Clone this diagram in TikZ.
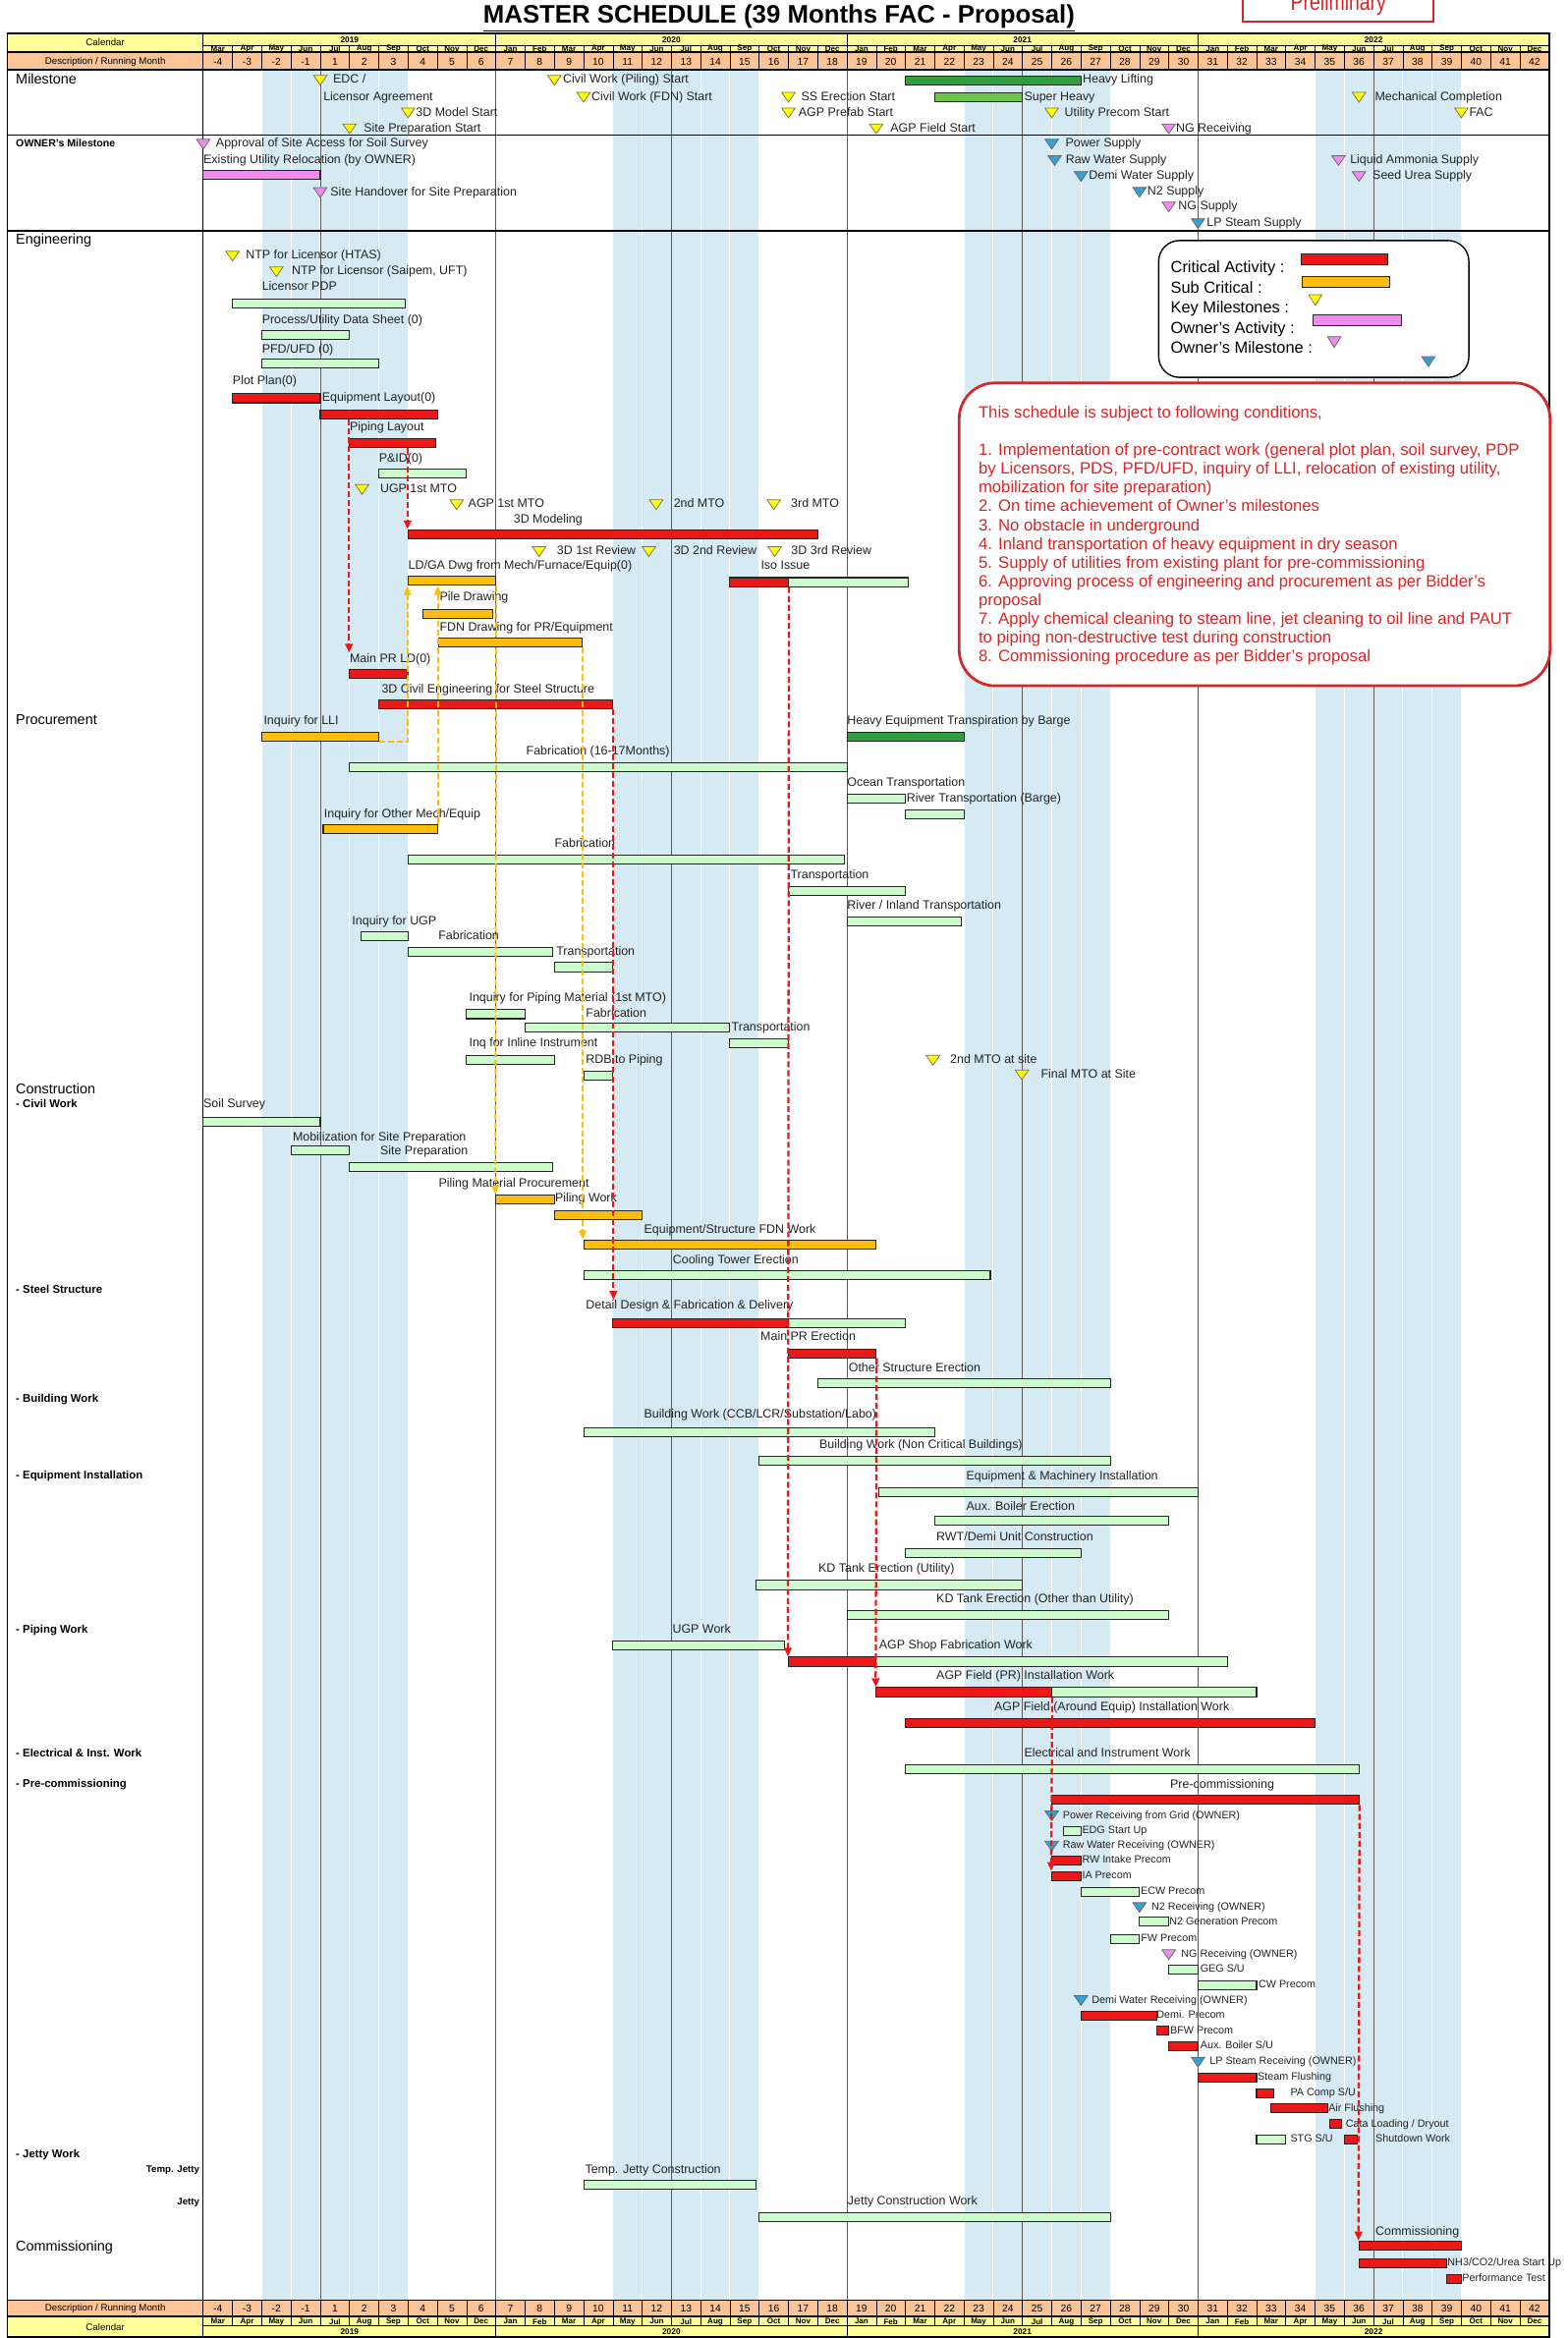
\documentclass[tikz,border=0pt]{standalone}
\usepackage{fontspec}
\setmainfont{Liberation Sans}
\usetikzlibrary{fit,arrows.meta}

\definecolor{critred}{RGB}{236,24,24}
\definecolor{subor}{RGB}{252,190,10}
\definecolor{normgr}{RGB}{204,250,204}
\definecolor{darkgr}{RGB}{48,158,62}
\definecolor{lightgr}{RGB}{108,196,76}
\definecolor{ownpink}{RGB}{240,140,240}
\definecolor{ownblue}{RGB}{52,162,212}
\definecolor{keyyel}{RGB}{255,255,0}
\definecolor{rainblue}{RGB}{214,234,243}
\definecolor{hdryel}{RGB}{255,255,153}
\definecolor{hdrorg}{RGB}{250,196,150}
\definecolor{condred}{RGB}{216,38,38}
\definecolor{txtgray}{RGB}{35,35,35}

\tikzset{
  gbar/.style={draw=black!85, line width=0.7pt, inner xsep=0pt, inner ysep=3pt},
  critbar/.style={gbar, fill=critred},
  subbar/.style={gbar, fill=subor},
  normbar/.style={gbar, fill=normgr},
  heavybar/.style={gbar, fill=darkgr},
  sheavybar/.style={gbar, fill=lightgr},
  ownbar/.style={gbar, fill=ownpink},
  lbl/.style={anchor=west, inner sep=0pt, text height=6pt, text depth=1.7pt, text=txtgray, font=\fontsize{8.2}{9.5}\selectfont},
  slbl/.style={lbl, text height=5.2pt, text depth=1.5pt, font=\fontsize{7.1}{8}\selectfont},
  mslabel/.style={lbl},
  keyms/.style={draw=black!60!yellow, fill=keyyel, line width=0.5pt},
  ownms/.style={draw=black!60, fill=ownpink, line width=0.5pt},
  utilms/.style={draw=black!60, fill=ownblue, line width=0.5pt},
  critpath/.style={draw=critred, line width=1.5pt, dash pattern=on 4pt off 2pt, -{Triangle[length=6pt,width=5pt]}},
  subpath/.style={draw=subor, line width=1.2pt, dash pattern=on 4pt off 2pt, -{Triangle[length=6pt,width=5pt]}},
  sect/.style={anchor=west, inner sep=0pt, text height=7pt, text depth=2pt, font=\fontsize{9.5}{11}\selectfont},
  subsect/.style={anchor=west, inner sep=0pt, text height=5.5pt, text depth=1.6pt, font=\bfseries\fontsize{7.5}{9}\selectfont},
  hdr/.style={inner sep=0pt, font=\fontsize{6.4}{7}\selectfont},
  mon/.style={inner sep=0pt, font=\bfseries\fontsize{5.3}{6}\selectfont},
  yr/.style={inner sep=0pt, font=\bfseries\fontsize{5.5}{6}\selectfont},
  rmon/.style={inner sep=0pt, font=\fontsize{6.8}{7}\selectfont},
  legtxt/.style={anchor=west, inner sep=0pt, text height=7.5pt, text depth=2.2pt, font=\fontsize{10.8}{12}\selectfont},
}

\newcommand\gtask[5]{%
  \path (#3,#5) coordinate (#1-s) (#4,#5) coordinate (#1-f);
  \node[#2, fit=(#1-s)(#1-f)] (#1) {};}
\newcommand\mstone[6][0.5]{%
  \draw[#3] (#4-0.23,#5-3.2) -- (#4+0.23,#5-3.2) -- (#4,#5+3.3) -- cycle;
  \node[mslabel] (#2) at (#4+#1,#5) {#6};}

\begin{document}
\begin{tikzpicture}[x=1pt,y=-1pt]
\useasboundingbox (0,0) rectangle (1051,1568);

\node[font=\bfseries\fontsize{17}{17}\selectfont] (title) at (522.4,12) {\underline{MASTER SCHEDULE (39 Months FAC - Proposal)}};
\draw[condred, line width=1.1pt] (833.6,-8) -- (833.6,14.5) -- (961.4,14.5) -- (961.4,-8);
\node[anchor=base, inner sep=0pt, text=condred, font=\fontsize{16}{16}\selectfont] (prelim) at (897.5,7) {\scalebox{0.8}[1]{Preliminary}};

\fill[hdryel] (5,22.4) rectangle (1039,34.7);
\fill[hdrorg] (5,35.6) rectangle (1039,46.8);
\fill[hdrorg] (5,1542.6) rectangle (1039,1553.2);
\fill[hdryel] (5,1554) rectangle (1039,1567.4);
\node[hdr] (calT) at (70.6,28.5) {Calendar};
\node[hdr] (descT) at (70.6,41.2) {Description / Running Month};
\node[hdr] (descB) at (70.6,1548.1) {Description / Running Month};
\node[hdr] (calB) at (70.6,1560.6) {Calendar};

\begin{scope}[xshift=136.3pt, x=19.62pt]
  \foreach \b in {2,14,26,38}
    \fill[rainblue] (\b,46.8) rectangle (\b+5,1542.6);
  \foreach \k in {1,...,45}
    \draw[white, line width=0.7pt] (\k,46.8) -- (\k,1542.6);
  \foreach \k in {4,10,16,22,28,34,40}
    \draw[black!65, line width=0.5pt] (\k,46.8) -- (\k,1542.6);

  \foreach \k in {1,...,45}
    \draw[line width=0.4pt] (\k,30.7) -- (\k,46.8) (\k,1542.6) -- (\k,1559.8);
  \foreach \k in {10,22,34}
    \draw[line width=0.6pt] (\k,22.4) -- (\k,30.7) (\k,1559.8) -- (\k,1567.4);
  \draw[line width=0.4pt] (0,30.7) -- (46,30.7) (0,1559.8) -- (46,1559.8);
  \foreach \y [count=\j] in {2019,2020,2021,2022} {
    \pgfmathsetmacro\yc{\j==1 ? 5 : 12*\j-8}
    \node[yr] (yt\j) at (\yc,26.6) {\y};
    \node[yr] (yb\j) at (\yc,1563.6) {\y};
  }
  \foreach \mn [count=\k from 0] in {Mar,Apr,May,Jun,Jul,Aug,Sep,Oct,Nov,Dec,
      Jan,Feb,Mar,Apr,May,Jun,Jul,Aug,Sep,Oct,Nov,Dec,
      Jan,Feb,Mar,Apr,May,Jun,Jul,Aug,Sep,Oct,Nov,Dec,
      Jan,Feb,Mar,Apr,May,Jun,Jul,Aug,Sep,Oct,Nov,Dec} {
    \node[mon] (mt\k) at (\k+0.5,32.8) {\mn};
    \node[mon] (mb\k) at (\k+0.5,1556.9) {\mn};
  }
  \foreach \k in {0,...,45} {
    \pgfmathtruncatemacro\runm{\k<4 ? \k-4 : \k-3}
    \node[rmon] (rt\k) at (\k+0.5,41.2) {\runm};
    \node[rmon] (rb\k) at (\k+0.5,1548.1) {\runm};
  }
\end{scope}

\draw[line width=1.2pt] (5,35.15) -- (1039,35.15) (5,1553.6) -- (1039,1553.6);
\draw[line width=0.8pt] (5,46.8) -- (1039,46.8) (5,1542.6) -- (1039,1542.6);
\draw[line width=1pt] (5,90.7) -- (1039,90.7) (5,154.8) -- (1039,154.8);
\draw[line width=0.8pt] (136.3,22.4) -- (136.3,1567.4);
\draw[line width=1pt] (5,22.4) rectangle (1039,1567.4);

\node[sect] (mileH) at (10.5,53.8) {Milestone};
\node[subsect, font=\bfseries\fontsize{7}{8}\selectfont] (ownH) at (10.5,96.6) {OWNER's Milestone};
\node[sect] (engH) at (10.5,161.3) {Engineering};
\node[sect] (procH) at (10.5,483.6) {Procurement};
\node[sect] (consH) at (10.5,731.4) {Construction};
\node[subsect] (civH) at (10.5,740.8) {- Civil Work};
\node[subsect] (steelH) at (10.5,865.3) {- Steel Structure};
\node[subsect] (bldgH) at (10.5,938.4) {- Building Work};
\node[subsect] (eqH) at (10.5,989.9) {- Equipment Installation};
\node[subsect] (pipH) at (10.5,1093.3) {- Piping Work};
\node[subsect] (elH) at (10.5,1176.1) {- Electrical \& Inst. Work};
\node[subsect] (preH) at (10.5,1196.9) {- Pre-commissioning};
\node[subsect] (jetH) at (10.5,1445.4) {- Jetty Work};
\node[subsect, anchor=east, font=\bfseries\fontsize{6.4}{7}\selectfont] (tjetH) at (134,1455.3) {Temp. Jetty};
\node[subsect, anchor=east, font=\bfseries\fontsize{6.4}{7}\selectfont] (pjetH) at (134,1476.8) {Jetty};
\node[sect] (commH) at (10.5,1507) {Commissioning};

\begin{scope}[xshift=136.3pt, x=19.62pt]
  % milestones
  \mstone[0.43]{edc}{keyms}{4}{53.8}{EDC /}
  \node[lbl] (edc2) at (4.1,65.2) {Licensor Agreement};
  \mstone[0.29]{pilestart}{keyms}{12}{53.8}{Civil Work (Piling) Start}
  \gtask{hlift}{heavybar}{24}{30}{53.8}
  \node[lbl] (hlift-l) at (30.05,53.8) {Heavy Lifting};
  \mstone[0.26]{fdnstart}{keyms}{13}{65.2}{Civil Work (FDN) Start}
  \mstone[0.43]{ssstart}{keyms}{20}{65.2}{SS Erection Start}
  \gtask{shvy}{sheavybar}{25}{28}{65.2}
  \node[lbl] (shvy-l) at (28.05,65.2) {Super Heavy};
  \mstone[0.54]{mc}{keyms}{39.5}{65.2}{Mechanical Completion}
  \mstone[0.26]{mod3dstart}{keyms}{7}{75.7}{3D Model Start}
  \mstone[0.34]{prefab}{keyms}{20}{75.7}{AGP Prefab Start}
  \mstone[0.43]{utilstart}{keyms}{29}{75.7}{Utility Precom Start}
  \mstone[0.26]{fac}{keyms}{43}{75.7}{FAC}
  \mstone[0.48]{sitestart}{keyms}{5}{86.3}{Site Preparation Start}
  \mstone[0.48]{fieldstart}{keyms}{23}{86.3}{AGP Field Start}
  \mstone[0.24]{ngms}{ownms}{33}{86.3}{NG Receiving}

  % owner
  \mstone[0.43]{apprv}{ownms}{0}{96.6}{Approval of Site Access for Soil Survey}
  \node[lbl] (exutil-l) at (0,107.5) {Existing Utility Relocation (by OWNER)};
  \gtask{exutil}{ownbar}{0}{4}{117.4}
  \mstone[0.34]{handover}{ownms}{4}{129.1}{Site Handover for Site Preparation}
  \mstone[0.46]{pwrsup}{utilms}{29}{96.6}{Power Supply}
  \mstone[0.37]{rawsup}{utilms}{29.1}{107.6}{Raw Water Supply}
  \mstone[0.26]{demisup}{utilms}{30}{118.3}{Demi Water Supply}
  \mstone[0.26]{n2sup}{utilms}{32}{128.9}{N2 Supply}
  \mstone[0.32]{ngsup}{ownms}{33}{138.7}{NG Supply}
  \mstone[0.29]{lpsup}{utilms}{34}{149.9}{LP Steam Supply}
  \mstone[0.39]{nh3sup}{ownms}{38.8}{107.6}{Liquid Ammonia Supply}
  \mstone[0.46]{ureasup}{ownms}{39.5}{118.3}{Seed Urea Supply}

  % engineering
  \mstone[0.45]{ntp1}{keyms}{1}{171.7}{NTP for Licensor (HTAS)}
  \mstone[0.52]{ntp2}{keyms}{2.5}{182.2}{NTP for Licensor (Saipem, UFT)}
  \node[lbl] (pdp-l) at (2,192.7) {Licensor PDP};
  \gtask{pdp}{normbar}{1}{6.9}{203.7}
  \node[lbl] (pds-l) at (2,214.7) {Process/Utility Data Sheet (0)};
  \gtask{pds}{normbar}{2}{5}{224.6}
  \node[lbl] (pfd-l) at (2,234.9) {PFD/UFD (0)};
  \gtask{pfd}{normbar}{2}{6}{244}
  \node[lbl] (plot-l) at (1,255.7) {Plot Plan(0)};
  \gtask{plot}{critbar}{1}{4}{267.1}
  \node[lbl] (eqlay-l) at (4.05,266.7) {Equipment Layout(0)};
  \gtask{eqlay}{critbar}{4}{8}{277.9}
  \node[lbl] (piplay-l) at (5,286.9) {Piping Layout};
  \gtask{piplay}{critbar}{5}{7.95}{297.4}
  \node[lbl] (pid-l) at (6,307.7) {P\&ID(0)};
  \gtask{pid}{normbar}{6}{9}{317.6}
  \mstone[0.61]{ugpmto}{keyms}{5.43}{328.2}{UGP 1st MTO}
  \mstone[0.39]{mto1}{keyms}{8.66}{338.4}{AGP 1st MTO}
  \mstone[0.59]{mto2}{keyms}{15.48}{338.4}{2nd MTO}
  \mstone[0.58]{mto3}{keyms}{19.5}{338.4}{3rd MTO}
  \node[lbl] (mod3d-l) at (10.6,348.6) {3D Modeling};
  \gtask{mod3d}{critbar}{7}{21}{358.4}
  \mstone[0.6]{rev1}{keyms}{11.48}{369.9}{3D 1st Review}
  \mstone[0.84]{rev2}{keyms}{15.23}{369.9}{3D 2nd Review}
  \mstone[0.56]{rev3}{keyms}{19.53}{369.9}{3D 3rd Review}
  \node[lbl] (ldga-l) at (7,379.7) {LD/GA Dwg from Mech/Furnace/Equip(0)};
  \gtask{ldga}{subbar}{7}{10}{389.6}
  \node[lbl] (iso-l) at (19.05,379.9) {Iso Issue};
  \gtask{isoc}{critbar}{18}{20}{390.4}
  \gtask{isog}{normbar}{20}{24.1}{390.4}
  \node[lbl] (pile-l) at (8.07,400.6) {Pile Drawing};
  \gtask{pile}{subbar}{7.5}{9.9}{411.6}
  \node[lbl] (fdndwg-l) at (8.07,421.4) {FDN Drawing for PR/Equipment};
  \gtask{fdndwg}{subbar}{8.05}{12.95}{430.9}
  \node[lbl] (mainprld-l) at (5,441.9) {Main PR LD(0)};
  \gtask{mainprld}{critbar}{5}{7}{451.7}
  \node[lbl] (civ3d-l) at (6.09,462.7) {3D Civil Engineering for Steel Structure};
  \gtask{civ3d}{critbar}{6}{14}{472.4}

  % procurement
  \node[lbl] (lli-l) at (2.06,483.6) {Inquiry for LLI};
  \gtask{lli}{subbar}{2}{6}{494.3}
  \node[lbl] (barge-l) at (22,483.6) {Heavy Equipment Transpiration by Barge};
  \gtask{barge}{heavybar}{22}{26}{494.3}
  \node[lbl] (fablli-l) at (11.03,504) {Fabrication (16-17Months)};
  \gtask{fablli}{normbar}{5}{22}{514.3}
  \node[lbl] (ocean-l) at (22,525.3) {Ocean Transportation};
  \gtask{ocean}{normbar}{22}{24}{535.6}
  \node[lbl] (river-l) at (24.03,535.6) {River Transportation (Barge)};
  \gtask{river}{normbar}{24}{26}{546.3}
  \node[lbl] (omech-l) at (4.12,546) {Inquiry for Other Mech/Equip};
  \gtask{omech}{subbar}{4.1}{8}{555.8}
  \node[lbl] (fabom-l) at (12,565.9) {Fabrication};
  \gtask{fabom}{normbar}{7}{21.9}{576.2}
  \node[lbl] (trom-l) at (20.06,587) {Transportation};
  \gtask{trom}{normbar}{20}{24}{597.3}
  \node[lbl] (inland-l) at (22,607.6) {River / Inland Transportation};
  \gtask{inland}{normbar}{22}{25.9}{617.9}
  \node[lbl] (ugpinq-l) at (5.08,617.9) {Inquiry for UGP};
  \gtask{ugpinq}{normbar}{5.4}{7}{628}
  \node[lbl] (ugpfab-l) at (8.03,628) {Fabrication};
  \gtask{ugpfab}{normbar}{7}{11.93}{638.3}
  \node[lbl] (ugptr-l) at (12.06,638.3) {Transportation};
  \gtask{ugptr}{normbar}{12}{14}{648.6}
  \node[lbl] (pipinq-l) at (9.08,669.5) {Inquiry for Piping Material (1st MTO)};
  \gtask{pipinq}{normbar}{9}{11}{680.2}
  \node[lbl] (pipfab-l) at (13.07,680.2) {Fabrication};
  \gtask{pipfab}{normbar}{11}{18}{689.2}
  \node[lbl] (piptr-l) at (18.05,689.6) {Transportation};
  \gtask{piptr}{normbar}{18}{20}{699.5}
  \node[lbl] (inline-l) at (9.08,699.8) {Inq for Inline Instrument};
  \gtask{inline}{normbar}{9}{12}{711}
  \node[lbl] (rdb-l) at (13.07,711) {RDB to Piping};
  \gtask{rdb}{normbar}{13}{14}{721.3}
  \mstone[0.58]{mtosite}{keyms}{24.94}{711}{2nd MTO at site}
  \mstone[0.64]{mtofinal}{keyms}{27.98}{720.8}{Final MTO at Site}

  % construction
  \node[lbl] (soil-l) at (0,740.8) {Soil Survey};
  \gtask{soil}{normbar}{0}{4}{752.2}
  \node[lbl] (mob-l) at (3.05,762.8) {Mobilization for Site Preparation};
  \gtask{mob}{normbar}{3}{5}{771.5}
  \node[lbl] (siteprep-l) at (6.04,772.6) {Site Preparation};
  \gtask{siteprep}{normbar}{5}{11.95}{782.5}
  \node[lbl] (pilmat-l) at (8.04,793.9) {Piling Material Procurement};
  \gtask{pilmat}{subbar}{10}{12}{804.5}
  \node[lbl] (pilwork-l) at (12.02,803.8) {Piling Work};
  \gtask{pilwork}{subbar}{12}{15}{815.2}
  \node[lbl] (fdnwork-l) at (15.06,824.9) {Equipment/Structure FDN Work};
  \gtask{fdnwork}{subbar}{13}{23}{834.5}
  \node[lbl] (ctower-l) at (16.04,845.1) {Cooling Tower Erection};
  \gtask{ctower}{normbar}{13}{26.9}{855.4}
  \node[lbl] (ddfab-l) at (13.07,875.8) {Detail Design \& Fabrication \& Delivery};
  \gtask{ddfabc}{critbar}{14}{20}{887.2}
  \gtask{ddfabg}{normbar}{20}{24}{887.2}
  \node[lbl] (mainpr-l) at (19.04,897.1) {Main PR Erection};
  \gtask{mainpr}{critbar}{20}{23}{907.6}
  \node[lbl] (othstr-l) at (22.05,918) {Other Structure Erection};
  \gtask{othstr}{normbar}{21}{31}{927.8}
  \node[lbl] (ccb-l) at (15.06,948.9) {Building Work (CCB/LCR/Substation/Labo)};
  \gtask{ccb}{normbar}{13}{25}{960.3}
  \node[lbl] (noncrit-l) at (21.05,969.5) {Building Work (Non Critical Buildings)};
  \gtask{noncrit}{normbar}{19}{31}{979.6}
  \node[lbl] (eqmach-l) at (26.07,990.4) {Equipment \& Machinery Installation};
  \gtask{eqmach}{normbar}{23.1}{34}{1000.5}
  \node[lbl] (auxb-l) at (26.07,1010.8) {Aux. Boiler Erection};
  \gtask{auxb}{normbar}{25}{33}{1019.6}
  \node[lbl] (rwt-l) at (25.05,1031.2) {RWT/Demi Unit Construction};
  \gtask{rwt}{normbar}{24}{30}{1041.7}
  \node[lbl] (kdu-l) at (21.02,1052.1) {KD Tank Erection (Utility)};
  \gtask{kdu}{normbar}{18.9}{28}{1063}
  \node[lbl] (kdo-l) at (25.05,1072.9) {KD Tank Erection (Other than Utility)};
  \gtask{kdo}{normbar}{22}{33}{1083}
  \node[lbl] (ugpw-l) at (16.03,1093.3) {UGP Work};
  \gtask{ugpw}{normbar}{14}{19.85}{1103.4}
  \node[lbl] (shop-l) at (23.09,1103.6) {AGP Shop Fabrication Work};
  \gtask{shopc}{critbar}{20}{23}{1114.4}
  \gtask{shopg}{normbar}{23}{35}{1114.4}
  \node[lbl] (fieldpr-l) at (25.05,1124.3) {AGP Field (PR) Installation Work};
  \gtask{fieldprc}{critbar}{23}{29}{1134.8}
  \gtask{fieldprg}{normbar}{29}{36}{1134.8}
  \node[lbl] (fieldeq-l) at (27.03,1145.1) {AGP Field (Around Equip) Installation Work};
  \gtask{fieldeq}{critbar}{24}{38}{1155.5}
  \node[lbl] (elin-l) at (28.05,1176.1) {Electrical and Instrument Work};
  \gtask{elin}{normbar}{24}{39.5}{1186.4}
  \node[lbl] (precom-l) at (33.04,1196.9) {Pre-commissioning};
  \gtask{precom}{critbar}{29}{39.5}{1207.2}

  \begin{scope}[mslabel/.style={slbl}]
    \mstone[0.37]{pwrrcv}{utilms}{29}{1217.8}{Power Receiving from Grid (OWNER)}
    \gtask{edg}{normbar}{29.4}{30}{1228.1}
    \node[slbl] (edg-l) at (30.03,1228.1) {EDG Start Up};
    \mstone[0.37]{rawrcv}{utilms}{29}{1238}{Raw Water Receiving (OWNER)}
    \gtask{rwin}{critbar}{29}{30}{1247.9}
    \node[slbl] (rwin-l) at (30.03,1247.9) {RW Intake Precom};
    \gtask{ia}{critbar}{29}{30}{1258.2}
    \node[slbl] (ia-l) at (30.03,1258.2) {IA Precom};
    \gtask{ecw}{normbar}{30}{32}{1268.7}
    \node[slbl] (ecw-l) at (32.03,1268.7) {ECW Precom};
    \mstone[0.4]{n2rcv}{utilms}{32}{1279.2}{N2 Receiving (OWNER)}
    \gtask{n2gen}{normbar}{32}{33}{1288.9}
    \node[slbl] (n2gen-l) at (33.01,1288.9) {N2 Generation Precom};
    \gtask{fw}{normbar}{31}{32}{1300.5}
    \node[slbl] (fw-l) at (32.04,1300.5) {FW Precom};
    \mstone[0.42]{ngrcv}{ownms}{33}{1310.8}{NG Receiving (OWNER)}
    \gtask{geg}{normbar}{33}{34}{1321}
    \node[slbl] (geg-l) at (34.07,1321) {GEG S/U};
    \gtask{cw}{normbar}{34}{36}{1331.3}
    \node[slbl] (cw-l) at (36.06,1331.3) {CW Precom};
    \mstone[0.36]{demircv}{utilms}{30}{1341.6}{Demi Water Receiving (OWNER)}
    \gtask{demi}{critbar}{30}{32.6}{1351.9}
    \node[slbl] (demi-l) at (32.58,1351.9) {Demi. Precom};
    \gtask{bfw}{critbar}{32.6}{33}{1362}
    \node[slbl] (bfw-l) at (33.04,1362) {BFW Precom};
    \gtask{auxsu}{critbar}{33}{34}{1372.3}
    \node[slbl] (auxsu-l) at (34.07,1372.3) {Aux. Boiler S/U};
    \mstone[0.39]{lprcv}{utilms}{34}{1382.9}{LP Steam Receiving (OWNER)}
    \gtask{steamf}{critbar}{34}{36}{1393.4}
    \node[slbl] (steamf-l) at (36.03,1393.4) {Steam Flushing};
    \gtask{pacomp}{critbar}{36}{36.6}{1403.9}
    \node[slbl] (pacomp-l) at (37.15,1403.9) {PA Comp S/U};
    \gtask{airf}{critbar}{36.5}{38.45}{1414}
    \node[slbl] (airf-l) at (38.45,1414) {Air Flushing};
    \gtask{cata}{critbar}{38.5}{38.9}{1424.6}
    \node[slbl] (cata-l) at (39.04,1424.6) {Cata Loading / Dryout};
    \gtask{stg}{normbar}{36}{37}{1434.9}
    \node[slbl] (stg-l) at (37.15,1434.9) {STG S/U};
    \gtask{shut}{critbar}{39}{39.45}{1434.9}
    \node[slbl] (shut-l) at (40.06,1434.9) {Shutdown Work};
  \end{scope}

  \node[lbl] (tjc-l) at (13.04,1455.3) {Temp. Jetty Construction};
  \gtask{tjc}{normbar}{13}{18.9}{1465.4}
  \node[lbl] (jcw-l) at (22.02,1476.8) {Jetty Construction Work};
  \gtask{jcw}{normbar}{19}{31}{1486.7}
  \node[lbl] (comm-l) at (40.06,1497) {Commissioning};
  \gtask{comm}{critbar}{39.5}{43}{1506}
  \gtask{startup}{critbar}{39.5}{42.5}{1517.8}
  \node[slbl] (startup-l) at (42.52,1517.8) {NH3/CO2/Urea Start Up};
  \gtask{perf}{critbar}{42.5}{43}{1528.4}
  \node[slbl] (perf-l) at (43.02,1528.4) {Performance Test};

  % critical and sub-critical links
  \draw[subpath] (lli.south east) -| (ldga.south west);
  \draw[subpath] (omech.north east) -- (ldga.south -| omech.east);
  \draw[subpath] (ldga.south east) -- (pilmat.north west);
  \draw[subpath] (fdndwg.south east) -- (fdnwork.north -| fdndwg.east);
  \draw[critpath] (eqlay.south -| mainprld.west) -- (mainprld-l.north -| mainprld.west);
  \draw[critpath] (piplay.south -| mod3d.west) -- (mod3d.north west);
  \draw[critpath] (civ3d.south east) -- (ddfab-l.north -| civ3d.east);
  \draw[critpath] (isoc.south east) -- (shopc.north west);
  \draw[critpath] (mainpr.south east) -- (fieldprc.north west);
  \draw[critpath] (fieldprc.south east) -- (ia.north west);
  \draw[critpath] (precom.south east) -- (comm.north west);
\end{scope}

% legend
\draw[fill=white, line width=0.9pt, rounded corners=14pt] (777,161.3) rectangle (985,253.1);
\node[legtxt] (legcrit) at (784.9,180) {Critical Activity :};
\node[legtxt] (legsub) at (784.9,193.8) {Sub Critical :};
\node[legtxt] (legkey) at (784.9,207.4) {Key Milestones :};
\node[legtxt] (legown) at (784.9,220.8) {Owner's Activity :};
\node[legtxt] (legoms) at (784.9,234.2) {Owner's Milestone :};
\draw[fill=critred, draw=black!85, line width=0.7pt] (872.5,170.6) rectangle (930.8,177.8);
\draw[fill=subor, draw=black!85, line width=0.7pt] (873,185.5) rectangle (931.6,192.7);
\draw[fill=ownpink, draw=black!85, line width=0.7pt] (880.6,211.2) rectangle (939.5,218.4);
\draw[keyms] (877.5,197.6) -- (886.5,197.6) -- (882,204.8) -- cycle;
\draw[ownms] (890.2,225.8) -- (899.2,225.8) -- (894.7,233) -- cycle;
\draw[utilms] (953.4,239.2) -- (962.4,239.2) -- (957.9,245.8) -- cycle;

% conditions
\draw[condred, fill=white, line width=1.8pt, rounded corners=24pt] (643.2,256.8) rectangle (1039.4,459.9);
\node[anchor=north west, align=left, inner sep=0pt, text=condred, font=\fontsize{11}{12.6}\selectfont] (cond) at (656,272) {%
This schedule is subject to following conditions,\\[12.6pt]
1. Implementation of pre-contract work (general plot plan, soil survey, PDP\\
by Licensors, PDS, PFD/UFD, inquiry of LLI, relocation of existing utility,\\
mobilization for site preparation)\\
2. On time achievement of Owner's milestones\\
3. No obstacle in underground\\
4. Inland transportation of heavy equipment in dry season\\
5. Supply of utilities from existing plant for pre-commissioning\\
6. Approving process of engineering and procurement as per Bidder's\\
proposal\\
7. Apply chemical cleaning to steam line, jet cleaning to oil line and PAUT\\
to piping non-destructive test during construction\\
8. Commissioning procedure as per Bidder's proposal};
\end{tikzpicture}
\end{document}
